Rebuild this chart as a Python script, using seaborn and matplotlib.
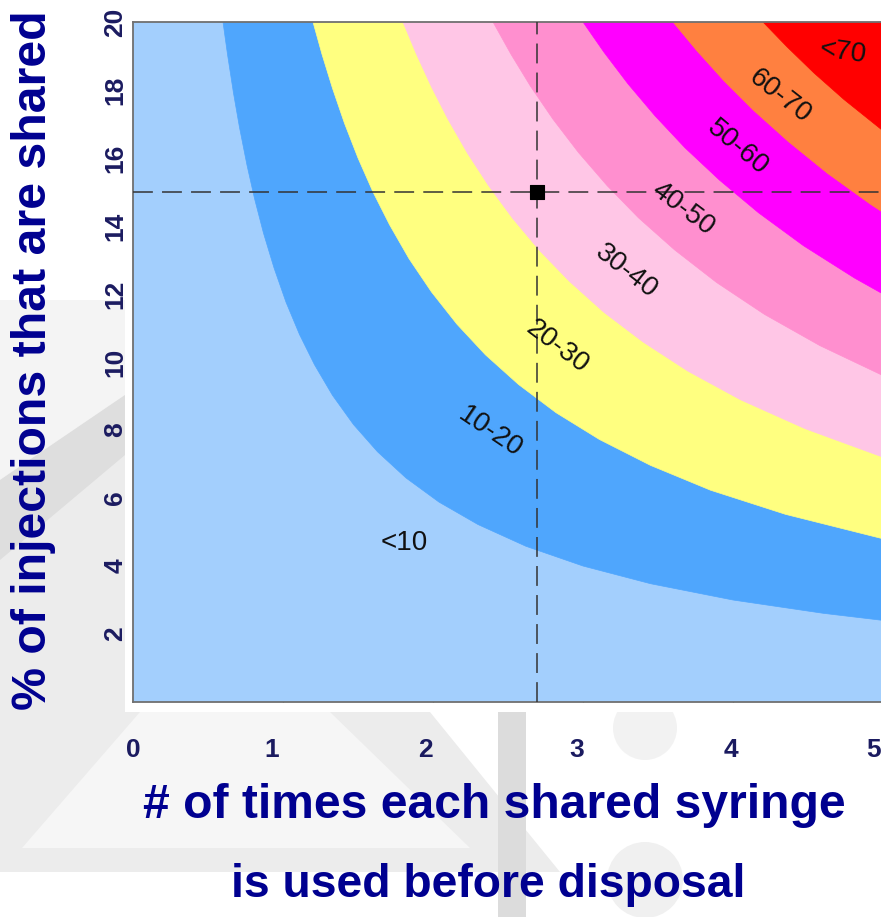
import numpy as np
import matplotlib
matplotlib.use("Agg")
import matplotlib.pyplot as plt
import matplotlib.transforms as mtrans
from matplotlib.patches import Polygon, Rectangle, Circle
import seaborn as sns

# Bandes de risque (%) et couleurs
band_labels = ["<10", "10-20", "20-30", "30-40", "40-50", "50-60", "60-70", "<70"]
band_colors = ["#a3cffd", "#4fa6fd", "#ffff80", "#ffc6e6", "#ff8fcf",
               "#ff00ff", "#ff8040", "#ff0000"]

# Frontieres (de l'arete haute y=20 vers l'arete droite x=5)
b1_x = [0.60, 0.63, 0.67, 0.71, 0.76, 0.81, 0.87, 0.94, 1.02, 1.11, 1.21, 1.33,
        1.47, 1.63, 1.82, 2.04, 2.30, 2.62, 3.00, 3.45, 4.00, 4.60, 5.00]
b1_y = [20.00, 19.05, 17.91, 16.90, 15.79, 14.81, 13.79, 12.77, 11.76, 10.81, 9.92, 9.02,
        8.16, 7.36, 6.59, 5.88, 5.22, 4.58, 4.00, 3.48, 3.00, 2.61, 2.40]
b2_x = [1.20, 1.26, 1.33, 1.41, 1.50, 1.60, 1.71, 1.84, 1.99, 2.16, 2.35, 2.57,
        2.82, 3.11, 3.45, 3.85, 4.35, 5.00]
b2_y = [20.00, 19.05, 18.05, 17.02, 16.00, 15.00, 14.04, 13.04, 12.06, 11.11, 10.21, 9.34,
        8.51, 7.72, 6.96, 6.23, 5.52, 4.80]
b3_x = [1.80, 1.89, 1.99, 2.10, 2.23, 2.37, 2.53, 2.71, 2.91, 3.14, 3.40, 3.70, 4.05, 4.48, 5.00]
b3_y = [20.00, 19.05, 18.09, 17.14, 16.14, 15.19, 14.23, 13.28, 12.37, 11.46, 10.59, 9.73,
        8.89, 8.04, 7.20]
b4_x = [2.40, 2.52, 2.65, 2.80, 2.97, 3.16, 3.37, 3.61, 3.89, 4.21, 4.58, 5.00]
b4_y = [20.00, 19.05, 18.11, 17.14, 16.16, 15.19, 14.24, 13.30, 12.34, 11.40, 10.48, 9.60]
b5_x = [3.00, 3.14, 3.30, 3.48, 3.68, 3.91, 4.17, 4.47, 4.81, 5.00]
b5_y = [20.00, 19.11, 18.18, 17.24, 16.30, 15.35, 14.39, 13.42, 12.47, 12.00]
b6_x = [3.60, 3.76, 3.94, 4.14, 4.37, 4.63, 4.92, 5.00]
b6_y = [20.00, 19.15, 18.27, 17.39, 16.48, 15.55, 14.63, 14.40]
b7_x = [4.20, 4.36, 4.54, 4.74, 5.00]
b7_y = [20.00, 19.27, 18.50, 17.72, 16.80]
boundaries = [(b1_x, b1_y), (b2_x, b2_y), (b3_x, b3_y), (b4_x, b4_y),
              (b5_x, b5_y), (b6_x, b6_y), (b7_x, b7_y)]

# Position des etiquettes de bande et angle a l'ecran
label_x = [1.81, 2.38, 2.83, 3.29, 3.67, 4.03, 4.31, 4.73]
label_y = [4.68, 7.94, 10.45, 12.65, 14.5, 16.3, 17.8, 19.1]
label_rot = [0, -34, -37, -38, -37, -40, -38, -8]

# Point de reference
ref_x = 2.69
ref_y = 15.0

x_ticks = [0, 1, 2, 3, 4, 5]
y_ticks = [2, 4, 6, 8, 10, 12, 14, 16, 18, 20]

sns.set_theme(style="white")
plt.rcParams['font.family'] = ["Liberation Sans", "DejaVu Sans"]

navy = "#000090"
tick_navy = "#1b1b60"

W, H = 881, 917
fig = plt.figure(figsize=(W / 100, H / 100), dpi=100)

# Fond : filigrane gris clair
bg = fig.add_axes([0, 0, 1, 1], zorder=0)
bg.set_xlim(0, W)
bg.set_ylim(H, 0)
bg.axis("off")
bg.add_patch(Polygon([(0, 300), (125, 300), (125, 395), (0, 480)], closed=True,
                     color="#f4f4f4", lw=0))
bg.add_patch(Polygon([(0, 480), (125, 395), (125, 712), (430, 712), (560, 872), (0, 872)],
                     closed=True, color="#ececec", lw=0))
bg.add_patch(Polygon([(0, 480), (125, 395), (125, 455), (0, 560)], closed=True,
                     color="#dedede", lw=0))
bg.add_patch(Polygon([(22, 848), (140, 712), (330, 712), (470, 848)], closed=True,
                     color="#f6f6f6", lw=0))
bg.add_patch(Rectangle((498, 712), 28, 205, color="#dcdcdc", lw=0))
bg.add_patch(Circle((645, 880), 38, color="#f0f0f0", lw=0))
bg.add_patch(Circle((645, 728), 32, color="#f2f2f2", lw=0))
bg.add_patch(Rectangle((125, 0), W - 125, 712, color="white", lw=0))

# Axe principal
ax = fig.add_axes([133 / W, (H - 702) / H, 750 / W, 680 / H], zorder=1)
ax.set_xlim(0, 5)
ax.set_ylim(0, 20)
ax.add_patch(Rectangle((0, 0), 5, 20, color=band_colors[0], lw=0, zorder=1))
for (bx, by), col in zip(boundaries, band_colors[1:]):
    pts = list(zip(bx, by)) + [(5, 20)]
    ax.add_patch(Polygon(pts, closed=True, facecolor=col, edgecolor=col, lw=0.5, zorder=2))

for txt, lx, ly, rot in zip(band_labels, label_x, label_y, label_rot):
    ax.text(lx, ly, txt, rotation=rot, rotation_mode="anchor", ha="center", va="center",
            fontsize=20, color="#111111", zorder=5)

# Lignes de reference pointillees
dash = (0, (13, 6))
ax.axhline(ref_y, color="#333333", lw=1.1, linestyle=dash, zorder=4)
ax.axvline(ref_x, color="#333333", lw=1.1, linestyle=dash, zorder=4)
sns.scatterplot(x=[ref_x], y=[ref_y], marker="s", s=100, color="black", edgecolor="black",
                ax=ax, zorder=6, legend=False)

ax.set_xticks(x_ticks)
ax.set_yticks(y_ticks)
ax.set_xticklabels([str(v) for v in x_ticks], fontweight="bold", fontsize=19, color=tick_navy)
ax.set_yticklabels([str(v) for v in y_ticks], fontweight="bold", fontsize=19, color=tick_navy,
                   rotation=90, va="center")
ax.tick_params(axis="x", direction="in", length=4, width=1, color="#444444", pad=26,
               top=True, bottom=True)
ax.tick_params(axis="y", direction="in", length=4, width=1, color="#444444", pad=4,
               left=True, right=True)
# petit decalage des etiquettes x comme sur l'original
x_shift = [0, -11, -8, -6, -2, -9]
for lab, dx in zip(ax.get_xticklabels(), x_shift):
    lab.set_transform(lab.get_transform() + mtrans.ScaledTranslation(dx / 100, 0, fig.dpi_scale_trans))
for side in ["left", "bottom", "top", "right"]:
    ax.spines[side].set_color("#707070")
    ax.spines[side].set_linewidth(1.3)
ax.set_xlabel("")
ax.set_ylabel("")

# Titres des axes
t_y = fig.text(34 / W, 1 - 360 / H, "% of injections that are shared", rotation=90,
               ha="center", va="center", fontweight="bold", fontsize=34, color=navy)
t_x1 = fig.text(494 / W, 1 - 805 / H, "# of times each shared syringe", ha="center",
                va="center", fontweight="bold", fontsize=34, color=navy)
t_x2 = fig.text(488 / W, 1 - 885 / H, "is used before disposal", ha="center", va="center",
                fontweight="bold", fontsize=34, color=navy)

# ajuste la taille pour retrouver la longueur mesuree sur l'original
renderer = fig.canvas.get_renderer()
for t, target, vertical in [(t_y, 700, True), (t_x1, 702, False), (t_x2, 515, False)]:
    bb = t.get_window_extent(renderer)
    size = bb.height if vertical else bb.width
    t.set_fontsize(t.get_fontsize() * target / size)

fig.savefig("out.png", dpi=100)
